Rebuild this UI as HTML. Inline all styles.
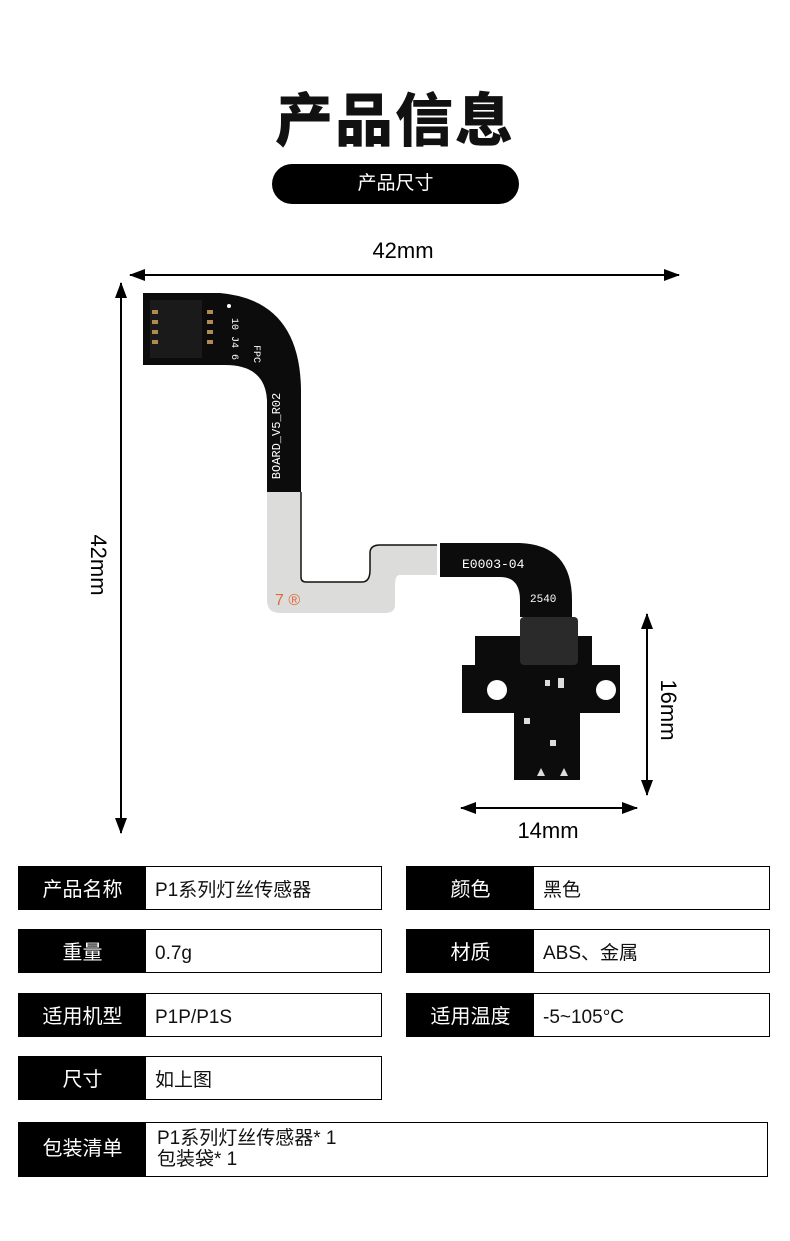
<!DOCTYPE html>
<html><head><meta charset="utf-8"><style>
body{margin:0;background:#fff;width:790px;height:1241px;position:relative;overflow:hidden;font-family:"Liberation Sans","Noto Sans CJK SC",sans-serif;}
.abs{position:absolute}
.title{left:0;width:790px;top:84px;text-align:center;font-size:58px;font-weight:900;line-height:76px;color:#111;letter-spacing:2px}
.pill{left:272px;top:164px;width:247px;height:40px;background:#000;border-radius:20px;color:#fff;text-align:center;line-height:40px;font-size:19px}
.row{position:absolute;height:44px;border:1.5px solid #000;box-sizing:border-box;display:flex}
.k{background:#000;color:#fff;width:127px;font-size:20px;line-height:41px;padding-top:3px;box-sizing:border-box;text-align:center}
.v{font-size:19px;padding-left:9px;line-height:41px;padding-top:3px;color:#111}
</style></head><body>
<div class="abs title">产品信息</div>
<div class="abs pill">产品尺寸</div>
<svg class="abs" style="left:0;top:0" width="790" height="860">
<defs><marker id="a" markerWidth="16" markerHeight="12" refX="15" refY="6" orient="auto-start-reverse" markerUnits="userSpaceOnUse"><path d="M0,0L16,6L0,12z" fill="#000"/></marker></defs>
<g stroke="#000" stroke-width="2" fill="none">
<line x1="130" y1="275" x2="679" y2="275" marker-start="url(#a)" marker-end="url(#a)"/>
<line x1="121" y1="283" x2="121" y2="833" marker-start="url(#a)" marker-end="url(#a)"/>
<line x1="647" y1="614" x2="647" y2="795" marker-start="url(#a)" marker-end="url(#a)"/>
<line x1="461" y1="808" x2="637" y2="808" marker-start="url(#a)" marker-end="url(#a)"/>
</g>
<text x="403" y="258" font-size="22" text-anchor="middle" font-family="Liberation Sans">42mm</text>
<text x="548" y="838" font-size="22" text-anchor="middle" font-family="Liberation Sans">14mm</text>
<text transform="translate(91,565) rotate(90)" font-size="22" text-anchor="middle" font-family="Liberation Sans">42mm</text>
<text transform="translate(661,710) rotate(90)" font-size="22" text-anchor="middle" font-family="Liberation Sans">16mm</text>
<path d="M143,293 L220,293 Q300,300 301,390 L301,492 L267,492 L267,400 Q265,365 225,365 L143,365 Z" fill="#0c0c0c"/>
<rect x="150" y="300" width="52" height="58" fill="#1a1a1a"/>
<g fill="#b08a50"><rect x="152" y="310" width="6" height="4"/><rect x="152" y="320" width="6" height="4"/><rect x="152" y="330" width="6" height="4"/><rect x="152" y="340" width="6" height="4"/><rect x="207" y="310" width="6" height="4"/><rect x="207" y="320" width="6" height="4"/><rect x="207" y="330" width="6" height="4"/><rect x="207" y="340" width="6" height="4"/></g>
<circle cx="229" cy="306" r="2" fill="#fff"/>
<text transform="translate(232,318) rotate(90)" fill="#fff" font-size="10" font-family="Liberation Mono">10 J4 6 5</text>
<text transform="translate(254,345) rotate(90)" fill="#fff" font-size="10" font-family="Liberation Mono">FPC</text>
<text transform="translate(280,436) rotate(-90)" fill="#fff" font-size="12" text-anchor="middle" font-family="Liberation Mono">BOARD_V5_R02</text>
<path d="M267,492 L301,492 L301,577 Q301,582 306,582 L362,582 Q370,582 370,570 L370,553 Q370,545 380,545 L437,545 L437,575 L400,575 Q395,575 395,585 L395,605 Q395,613 385,613 L280,613 Q267,613 267,600 Z" fill="#dcdcda"/>
<path d="M301,492 L301,577 Q301,582 306,582 L362,582 Q370,582 370,570 L370,553 Q370,545 380,545 L437,545" fill="none" stroke="#111" stroke-width="1.5"/>
<text x="275" y="605" fill="#e06a3a" font-size="16" font-family="Liberation Sans">7 ®</text>
<path d="M440,543 L520,543 Q572,545 572,600 L572,617 L520,617 L520,600 Q520,577 500,577 L440,577 Z" fill="#0c0c0c"/>
<text x="462" y="568" fill="#fff" font-size="13" font-family="Liberation Mono">E0003-04</text>
<text x="530" y="602" fill="#fff" font-size="11" font-family="Liberation Mono">2540</text>
<path d="M475,636 L592,636 L592,665 L620,665 L620,713 L580,713 L580,780 L514,780 L514,713 L462,713 L462,665 L475,665 Z" fill="#0c0c0c"/>
<rect x="520" y="617" width="58" height="48" rx="4" fill="#2a2a2a"/>
<circle cx="497" cy="690" r="10" fill="#fff"/><circle cx="606" cy="690" r="10" fill="#fff"/>
<g fill="#ddd"><rect x="545" y="680" width="5" height="6"/><rect x="558" y="678" width="6" height="10"/><rect x="524" y="718" width="6" height="6"/><rect x="550" y="740" width="6" height="6"/><path d="M537,776L541,768L545,776Z"/><path d="M560,776L564,768L568,776Z"/></g>
</svg>
<div class="row" style="left:18px;top:866px;width:364px"><div class="k">产品名称</div><div class="v">P1系列灯丝传感器</div></div>
<div class="row" style="left:406px;top:866px;width:364px"><div class="k">颜色</div><div class="v">黑色</div></div>
<div class="row" style="left:18px;top:929px;width:364px"><div class="k">重量</div><div class="v">0.7g</div></div>
<div class="row" style="left:406px;top:929px;width:364px"><div class="k">材质</div><div class="v">ABS、金属</div></div>
<div class="row" style="left:18px;top:993px;width:364px"><div class="k">适用机型</div><div class="v">P1P/P1S</div></div>
<div class="row" style="left:406px;top:993px;width:364px"><div class="k">适用温度</div><div class="v">-5~105°C</div></div>
<div class="row" style="left:18px;top:1056px;width:364px"><div class="k">尺寸</div><div class="v">如上图</div></div>
<div class="row" style="left:18px;top:1122px;width:750px;height:55px"><div class="k" style="line-height:52px;padding-top:0">包装清单</div><div class="v" style="line-height:21px;padding-top:5px;padding-left:11px">P1系列灯丝传感器* 1<br>包装袋* 1</div></div>
</body></html>
